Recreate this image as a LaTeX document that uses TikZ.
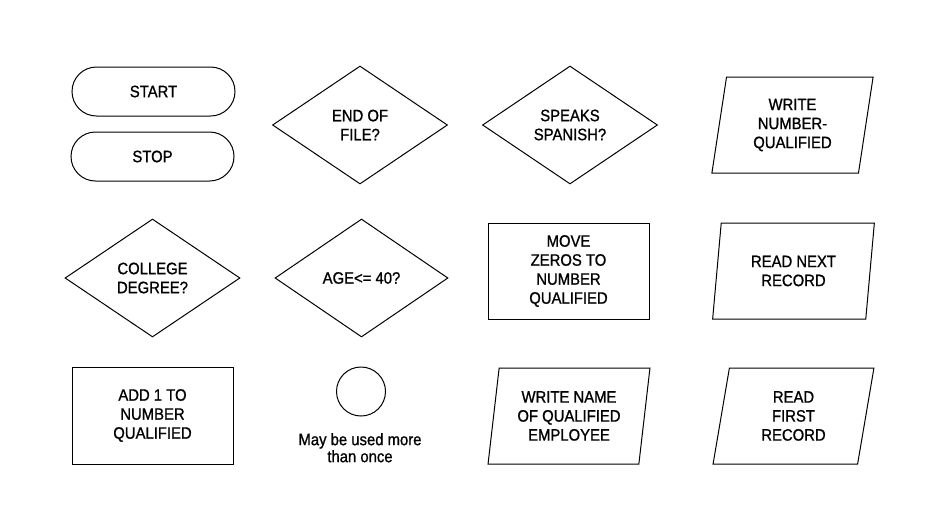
\documentclass[tikz,border=0pt]{standalone}
\usepackage{fontspec}
\setmainfont{Liberation Sans}[FakeStretch=0.9,FakeBold=1]
\usetikzlibrary{shapes.geometric,shapes.misc}
\tikzset{
  base/.style={draw=black, line width=1pt, align=center, inner sep=0pt,
    font=\fontsize{16.5}{19}\selectfont},
  terminal/.style={base, rounded rectangle, minimum width=163pt, minimum height=49pt},
  decision/.style={base, diamond, minimum width=175pt, minimum height=118pt},
  process/.style={base, rectangle, minimum width=161pt, minimum height=96pt},
  iobox/.style={base, trapezium, trapezium left angle=80.6, trapezium right angle=99.4,
    trapezium stretches=true, minimum width=162pt, minimum height=96pt},
  connector/.style={base, circle, minimum size=49pt},
  note/.style={align=center, inner sep=0pt, font=\fontsize{16.5}{17}\selectfont}
}
\begin{document}
\begin{tikzpicture}[x=1pt,y=-1pt]
\useasboundingbox (0,0) rectangle (947,531);
% row 1
\node[terminal] (start) at (153.5,91.5) {START};
\node[terminal] (stop) at (152.5,156.5) {STOP};
\node[decision] (eof) at (360,125) {END OF\\FILE?};
\node[decision] (spanish) at (570,125) {SPEAKS\\SPANISH?};
\node[iobox] (writenum) at (792.5,125) {WRITE\\NUMBER-\\QUALIFIED};
% row 2
\node[decision] (college) at (152.5,278) {COLLEGE\\DEGREE?};
\node[decision, minimum width=173pt] (age) at (361.5,278) {AGE<= 40?};
\node[process] (movezero) at (568.5,271) {MOVE\\ZEROS TO\\NUMBER\\QUALIFIED};
\node[iobox] (readnext) at (793.5,271) {READ NEXT\\RECORD};
% row 3
\node[process, minimum height=97pt] (addone) at (152.5,415.5) {ADD 1 TO\\NUMBER\\QUALIFIED};
\node[connector] (conn) at (361,391.5) {};
\node[note, anchor=north] (connnote) at (360,433) {May be used more\\than once};
\node[iobox] (writename) at (569,416) {WRITE NAME\\OF QUALIFIED\\EMPLOYEE};
\node[iobox] (readfirst) at (793.5,416) {READ\\FIRST\\RECORD};
\end{tikzpicture}
\end{document}
